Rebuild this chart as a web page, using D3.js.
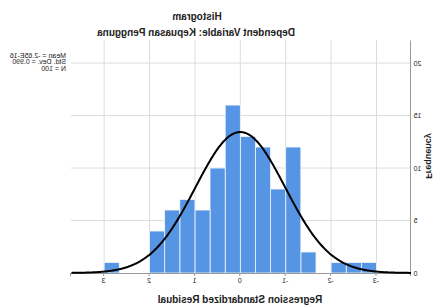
<!DOCTYPE html>
<html lang="en">
<head>
  <meta charset="UTF-8">
  <title>Histogram</title>
  <script src="https://cdn.jsdelivr.net/npm/d3@7"></script>
<style>
  body { margin: 0; background: #fff; }
  text { font-family: "Liberation Sans", Arial, sans-serif; fill: #222; }
</style>
</head>

<body>
  <script>
    // bins of the standardized residual (width 1/3)
    var binStart = [-3, -2.667, -2.333, -2, -1.667, -1.333, -1, -0.667, -0.333,
                    0, 0.333, 0.667, 1, 1.333, 1.667, 2, 2.333, 2.667];
    var binEnd   = [-2.667, -2.333, -2, -1.667, -1.333, -1, -0.667, -0.333, 0,
                    0.333, 0.667, 1, 1.333, 1.667, 2, 2.333, 2.667, 3];
    var counts   = [1, 1, 1, 0, 2, 12, 8, 12, 13, 16, 10, 6, 7, 6, 4, 0, 0, 1];

    var xTicks = [-3, -2, -1, 0, 1, 2, 3];
    var yTicks = [0, 5, 10, 15, 20];
    var statLines = ['Mean = -2.65E-16', 'Std. Dev. = 0.990', 'N = 100'];
    var mean = 0, sd = 0.990, n = 100, binW = 1 / 3;

    var w = 434;
    var h = 307;

    var x = d3.scaleLinear().domain([-3.76, 3.73]).range([23, 363]);
    var y = d3.scaleLinear().domain([0, 22.2]).range([273, 40]);

    var svg = d3.select('body')
                .append('svg')
                .attr('width', w)
                .attr('height', h);

    // the reference picture is mirrored left-right, so flip everything
    var g = svg.append('g').attr('transform', `translate(${w},0) scale(-1,1)`);

    // grid
    g.selectAll('line.hgrid')
      .data(yTicks.slice(1))
      .enter()
      .append('line')
      .attr('x1', x.range()[0]).attr('x2', x.range()[1])
      .attr('y1', d => y(d)).attr('y2', d => y(d))
      .attr('stroke', '#dcdcdc').attr('stroke-width', 1);

    g.selectAll('line.vgrid')
      .data(xTicks)
      .enter()
      .append('line')
      .attr('x1', d => x(d)).attr('x2', d => x(d))
      .attr('y1', y.range()[1]).attr('y2', y(0))
      .attr('stroke', '#dcdcdc').attr('stroke-width', 1);

    // bars
    g.selectAll('rect')
      .data(counts)
      .enter()
      .append('rect')
      .attr('x', (d, i) => x(binStart[i]))
      .attr('y', d => y(d))
      .attr('width', (d, i) => x(binEnd[i]) - x(binStart[i]))
      .attr('height', d => y(0) - y(d))
      .attr('fill', '#5595e4')
      .attr('stroke', '#f2f6fc')
      .attr('stroke-width', 0.8);

    // axes
    var xAxis = d3.axisBottom(x).tickValues(xTicks).tickSize(3).tickFormat(d3.format('d'));
    var xg = g.append('g').attr('transform', `translate(0,${y(0)})`).call(xAxis);
    xg.select('.domain').attr('stroke', '#9a9a9a');
    xg.selectAll('.tick line').attr('stroke', '#9a9a9a');
    xg.selectAll('.tick text')
      .text(d => d < 0 ? '-' + Math.abs(d) : d)
      .attr('font-size', '7px').attr('font-family', '"Liberation Sans", Arial, sans-serif')
      .attr('fill', '#333').attr('dy', '0.55em');

    var yAxis = d3.axisLeft(y).tickValues(yTicks).tickSize(0).tickPadding(2.5);
    var yg = g.append('g').attr('transform', `translate(${x.range()[0]},0)`).call(yAxis);
    yg.select('.domain').attr('stroke', '#9a9a9a');
    yg.selectAll('.tick text')
      .attr('font-size', '7px').attr('font-family', '"Liberation Sans", Arial, sans-serif')
      .attr('fill', '#333');

    // normal curve
    var pts = d3.range(x.domain()[0], x.domain()[1] + 0.001, 0.02).map(function(v) {
      var z = (v - mean) / sd;
      return [v, n * binW * Math.exp(-0.5 * z * z) / (sd * Math.sqrt(2 * Math.PI))];
    });
    g.append('path')
      .datum(pts)
      .attr('d', d3.line().x(d => x(d[0])).y(d => y(d[1])).curve(d3.curveBasis))
      .attr('fill', 'none')
      .attr('stroke', '#000')
      .attr('stroke-width', 2);

    // titles
    g.append('text').text('Histogram')
      .attr('x', 237).attr('y', 19.5).attr('text-anchor', 'middle')
      .attr('font-size', '10px').attr('font-weight', 'bold');
    g.append('text').text('Dependent Variable: Kepuasan Pengguna')
      .attr('x', 238).attr('y', 36).attr('text-anchor', 'middle')
      .attr('font-size', '10px').attr('font-weight', 'bold');
    g.append('text').text('Regression Standardized Residual')
      .attr('x', 194).attr('y', 303).attr('text-anchor', 'middle')
      .attr('font-size', '10px').attr('font-weight', 'bold');
    g.append('text').text('Frequency')
      .attr('transform', 'translate(8.5,156) rotate(-90)')
      .attr('text-anchor', 'middle')
      .attr('font-size', '9px').attr('font-weight', 'bold');

    // stats box
    g.selectAll('text.stat')
      .data(statLines)
      .enter()
      .append('text')
      .attr('class', 'stat')
      .text(d => d)
      .attr('x', 368)
      .attr('y', (d, i) => 57.5 + i * 6.8)
      .attr('font-size', '7px')
      .attr('fill', '#333');
  </script>
</body>
</html>
